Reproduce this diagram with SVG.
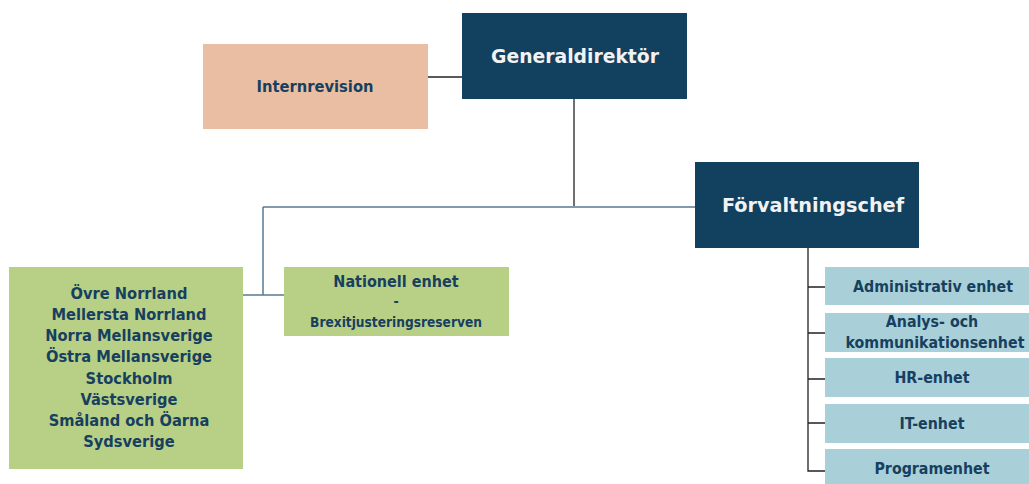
<svg xmlns="http://www.w3.org/2000/svg" width="1029" height="484" viewBox="0 0 1029 484">
<style>
text{font-family:"DejaVu Sans Condensed","DejaVu Sans",sans-serif;font-weight:bold;text-anchor:middle;fill:#173f5f}
.dark{fill:#12405f}
.w{fill:#f2f2f2}
.line{stroke:#222;stroke-width:1.3;fill:none}
.line2{stroke:#5a7a92;stroke-width:1.5;fill:none}
.reg{font-size:16.3px}
.unit{font-size:15.8px}
</style>
<rect width="1029" height="484" fill="#ffffff"/>
<g id="connectors">
<path class="line" d="M428 77H462"/>
<path class="line" d="M574 99V206"/>
<path class="line2" d="M263 207H695M263 207V295M243 295H284"/>
<path class="line" d="M808 248V471H825M808 287H825M808 333H825M808 379H825M808 423H825"/>
</g>
<g id="generaldirektor">
<rect class="dark" x="462" y="13" width="225" height="86"/>
<text class="w" x="575" y="63" font-size="20" textLength="168" lengthAdjust="spacingAndGlyphs">Generaldirektör</text>
</g>
<g id="internrevision">
<rect x="203" y="44" width="225" height="85" fill="#eabea2"/>
<text x="315" y="92" font-size="16" textLength="117" lengthAdjust="spacingAndGlyphs">Internrevision</text>
</g>
<g id="forvaltningschef">
<rect class="dark" x="695" y="162" width="224" height="86"/>
<text class="w" x="813" y="212" font-size="20" textLength="182" lengthAdjust="spacingAndGlyphs">Förvaltningschef</text>
</g>
<g id="regioner">
<rect x="9" y="267" width="234" height="202" fill="#b8cf86"/>
<text class="reg" x="129" y="299">Övre Norrland</text>
<text class="reg" x="129" y="320">Mellersta Norrland</text>
<text class="reg" x="129" y="341">Norra Mellansverige</text>
<text class="reg" x="129" y="362">Östra Mellansverige</text>
<text class="reg" x="129" y="384">Stockholm</text>
<text class="reg" x="129" y="405">Västsverige</text>
<text class="reg" x="129" y="426">Småland och Öarna</text>
<text class="reg" x="129" y="447">Sydsverige</text>
</g>
<g id="nationell">
<rect x="284" y="267" width="225" height="69" fill="#b8cf86"/>
<text x="396" y="287" font-size="16">Nationell enhet</text>
<text x="396" y="306" font-size="14">-</text>
<text x="396" y="327" font-size="13.6">Brexitjusteringsreserven</text>
</g>
<g id="administrativ">
<rect x="825" y="267" width="204" height="38" fill="#a9d0d8"/>
<text class="unit" x="933" y="292">Administrativ enhet</text>
</g>
<g id="analys">
<rect x="825" y="313" width="204" height="39" fill="#a9d0d8"/>
<text class="unit" x="932" y="327">Analys- och</text>
<text class="unit" x="935" y="348">kommunikationsenhet</text>
</g>
<g id="hr">
<rect x="825" y="358" width="204" height="39" fill="#a9d0d8"/>
<text class="unit" x="932" y="383">HR-enhet</text>
</g>
<g id="it">
<rect x="825" y="404" width="204" height="39" fill="#a9d0d8"/>
<text class="unit" x="932" y="429">IT-enhet</text>
</g>
<g id="program">
<rect x="825" y="449" width="204" height="35" fill="#a9d0d8"/>
<text class="unit" x="932" y="474">Programenhet</text>
</g>
</svg>
